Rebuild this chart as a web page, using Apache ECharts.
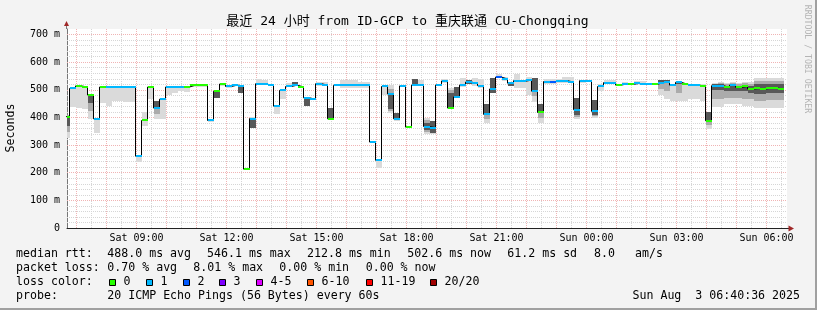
<!DOCTYPE html>
<html><head><meta charset="utf-8">
<script src="https://cdn.jsdelivr.net/npm/echarts@6/dist/echarts.min.js"></script>
<style>html,body{margin:0;padding:0;background:#f3f3f3}#c{width:817px;height:310px}</style>
</head><body><div id="c"></div>
<script>
// ---- data (minutes since Sat 00:00; 12-minute samples) ----
const titleText = '最近 24 小时 from ID-GCP to 重庆联通 CU-Chongqing';
const xLabelValues = [540, 720, 900, 1080, 1260, 1440, 1620, 1800];
const xLabelTexts = ['Sat 09:00', 'Sat 12:00', 'Sat 15:00', 'Sat 18:00', 'Sat 21:00', 'Sun 00:00', 'Sun 03:00', 'Sun 06:00'];
const yLabelValues = [0, 100, 200, 300, 400, 500, 600, 700];
const yLabelTexts = ['0', '100 m', '200 m', '300 m', '400 m', '500 m', '600 m', '700 m'];

const median = [403,505,514,510,481,395,510,510,510,510,
510,510,260,389,510,434,466,510,510,510,
510,517,517,517,389,495,521,512,517,514,
213,396,522,520,516,441,498,512,517,510,
471,466,522,517,395,516,516,516,516,516,
516,311,245,512,485,395,514,365,517,517,
367,363,517,532,434,474,517,528,523,515,
411,503,546,539,524,533,531,535,495,418,
530,530,533,533,528,428,533,532,422,512,
526,526,517,522,520,523,520,520,520,526,
527,517,527,520,517,517,512,388,515,515,
509,517,509,512,503,505,503,506,506,503];
const lossIdx = [0,1,0,0,0,1,0,1,1,1,
1,1,1,0,0,1,1,1,1,1,
0,0,0,0,1,0,0,1,1,1,
0,1,1,1,1,1,1,1,1,0,
1,1,1,1,0,1,1,1,1,1,
1,1,1,1,1,1,1,0,1,1,
1,1,1,1,0,1,1,1,1,1,
1,1,2,1,1,1,1,1,1,0,
1,2,1,1,1,1,1,1,1,1,
1,1,0,1,0,1,1,1,0,1,
1,1,1,0,1,1,0,0,1,1,
0,1,0,0,0,0,0,0,0,0];
const smokeLo = [326,437,435,432,393,345,454,441,460,460,
456,456,237,368,465,393,393,480,490,495,
491,510,510,510,385,469,515,508,512,488,
210,363,520,518,512,413,468,510,515,null,
441,464,515,515,395,512,505,505,505,505,
505,309,218,483,417,387,512,363,517,515,
341,341,515,525,435,474,510,520,512,506,
381,489,541,532,512,505,505,480,457,381,
520,520,525,525,525,395,525,527,398,497,
520,520,515,520,null,520,518,null,null,481,
466,459,459,459,465,465,459,357,437,437,
447,447,447,440,440,435,435,435,435,435];
const smokeHi = [410,505,514,510,482,396,510,510,510,510,
510,510,260,418,510,460,466,514,512,512,
514,520,520,520,392,500,525,515,522,516,
215,400,540,535,520,442,500,526,528,null,
472,468,527,528,435,522,535,535,535,530,
528,313,246,514,519,417,516,367,538,535,
399,388,520,540,507,510,544,534,541,538,
450,544,556,548,530,557,535,545,541,450,
540,540,540,545,545,471,537,535,462,520,
537,537,519,530,null,532,532,null,null,535,
536,522,530,522,520,520,522,421,525,528,
526,528,526,530,530,541,541,541,541,541];
const coreLo = [369,null,null,null,453,null,null,null,null,null,
null,null,null,null,null,435,null,null,null,null,
null,null,null,null,null,469,null,null,null,488,
null,363,null,null,null,null,null,null,517,null,
441,null,null,null,395,null,null,null,null,null,
null,null,null,null,430,395,null,null,517,null,
355,345,null,null,435,474,null,520,null,null,
411,489,null,null,512,null,null,null,495,418,
null,null,null,null,null,410,null,null,410,null,
null,null,null,null,null,null,null,null,null,522,
524,null,520,null,null,null,null,388,500,500,
495,495,495,495,490,485,485,488,488,488];
const coreHi = [405,null,null,null,481,null,null,null,null,null,
null,null,null,null,null,459,null,null,null,null,
null,null,null,null,null,495,null,null,null,514,
null,396,null,null,null,null,null,null,528,null,
471,null,null,null,435,null,null,null,null,null,
null,null,null,null,485,417,null,null,538,null,
380,388,null,null,490,510,null,534,null,null,
450,544,null,null,530,null,null,null,541,450,
null,null,null,null,null,471,null,null,462,null,
null,null,null,null,null,null,null,null,null,535,
536,null,530,null,null,null,null,421,520,520,
515,522,515,518,515,520,520,522,522,520];

const lossColors = ['#26ff00','#00b8ff','#0059ff','#7e00ff','#dd00ff','#ff5500','#ff0000','#a00000'];
const lossLabels = ['0','1','2','3','4-5','6-10','11-19','20/20'];
const rttStats = ['488.0 ms avg','546.1 ms max','212.8 ms min','502.6 ms now','61.2 ms sd','8.0','am/s'];
const lossStats = ['0.70 % avg','8.01 % max','0.00 % min','0.00 % now'];
const probeText = '20 ICMP Echo Pings (56 Bytes) every 60s';
const dateText = 'Sun Aug  3 06:40:36 2025';

const X_MIN = 401, X_MAX = 1841, STEP = 12, FIRST = 394;
const starts = median.map((_, k) => FIRST + STEP * k);

// ---- chart ----
const FONT = '"DejaVu Sans Mono", monospace';
const chart = echarts.init(document.getElementById('c'), null, {renderer: 'canvas'});

const MAJOR = '#f0b4b4', MINOR = '#d6d6d6';
const gridLines = [];
for (let t = 420; t < X_MAX; t += 60) gridLines.push({xAxis: t, lineStyle: {color: MAJOR, type: [1, 1], width: 1}});
for (let t = 450; t < X_MAX; t += 60) gridLines.push({xAxis: t, lineStyle: {color: MINOR, type: [1, 1], width: 1}});
for (let v = 20; v <= 700; v += 20) {
  gridLines.push({yAxis: v, lineStyle: {color: v % 100 === 0 ? MAJOR : MINOR, type: [1, 1], width: 1}});
}

const stepLine = starts.map((t, k) => [t, median[k]]);
stepLine.push([starts[starts.length - 1] + STEP, median[median.length - 1]]);

function bandRect(api, s, e, lo, hi, color) {
  const p0 = api.coord([s, hi]), p1 = api.coord([e, lo]);
  const x0 = Math.round(p0[0]), x1 = Math.round(p1[0]);
  const y0 = Math.round(p0[1]), y1 = Math.round(p1[1]);
  return {type: 'rect', shape: {x: x0, y: y0, width: x1 - x0, height: Math.max(1, y1 - y0)}, style: {fill: color}};
}

chart.setOption({
  animation: false,
  backgroundColor: '#f3f3f3',
  grid: {left: 67, top: 29, right: 30, bottom: 82, show: true, backgroundColor: '#ffffff', borderWidth: 0},
  xAxis: {
    type: 'value', min: X_MIN, max: X_MAX,
    axisLine: {show: true, onZero: false, lineStyle: {color: '#222', width: 1}},
    axisTick: {show: false},
    splitLine: {show: false},
    axisLabel: {
      customValues: xLabelValues, margin: 5,
      formatter: v => xLabelTexts[xLabelValues.indexOf(v)] || '',
      fontFamily: FONT, fontSize: 10, color: '#000'
    }
  },
  yAxis: {
    type: 'value', min: 0, max: 720,
    axisLine: {show: true, lineStyle: {color: '#777', width: 1}},
    axisTick: {show: false},
    splitLine: {show: false},
    axisLabel: {
      customValues: yLabelValues, margin: 7,
      formatter: v => yLabelTexts[yLabelValues.indexOf(v)] || '',
      fontFamily: FONT, fontSize: 10, color: '#000'
    }
  },
  series: [
    {
      type: 'line', data: [], silent: true,
      markLine: {silent: true, symbol: ['none', 'none'], label: {show: false}, z: 1, animation: false, data: gridLines}
    },
    {
      type: 'custom', z: 2, silent: true, clip: true,
      data: starts.map((t, k) => [t, median[k]]),
      encode: {x: 0, y: 1},
      renderItem: (params, api) => {
        const k = params.dataIndex;
        const s = Math.max(starts[k], X_MIN), e = Math.min(starts[k] + STEP, X_MAX);
        const children = [];
        if (smokeLo[k] != null) {
          children.push(bandRect(api, s, e, smokeLo[k], smokeHi[k], '#dadada'));
          if (coreLo[k] != null) {
            const mLo = (smokeLo[k] + coreLo[k]) / 2, mHi = (smokeHi[k] + coreHi[k]) / 2;
            children.push(bandRect(api, s, e, mLo, mHi, '#ababab'));
            children.push(bandRect(api, s, e, coreLo[k], coreHi[k], '#585858'));
          }
        }
        return {type: 'group', children};
      }
    },
    {
      type: 'line', z: 3, step: 'end', data: stepLine, showSymbol: false, silent: true,
      lineStyle: {color: '#000', width: 1}
    },
    {
      type: 'custom', z: 4, silent: true, clip: true,
      data: starts.map((t, k) => [t, median[k]]),
      encode: {x: 0, y: 1},
      renderItem: (params, api) => {
        const k = params.dataIndex;
        const s = Math.max(starts[k], X_MIN), e = Math.min(starts[k] + STEP, X_MAX);
        const p0 = api.coord([s, median[k]]), p1 = api.coord([e, median[k]]);
        const x0 = Math.round(p0[0]), x1 = Math.round(p1[0]);
        const y = Math.round(p0[1]);
        return {type: 'rect', shape: {x: x0, y: y - 1, width: x1 - x0, height: 2}, style: {fill: lossColors[lossIdx[k]]}};
      }
    }
  ]
});

// ---- decorations & legend text ----
const pEnd = chart.convertToPixel({gridIndex: 0}, [X_MAX, 0]);
const pTop = chart.convertToPixel({gridIndex: 0}, [X_MIN, 720]);
const g = [];
function txt(x, y, text, opts) {
  g.push(Object.assign({type: 'text', x, y, silent: true,
    style: Object.assign({text, fill: '#000', fontFamily: FONT, fontSize: 11.6, verticalAlign: 'middle', align: 'left'}, opts || {})}));
}
// frame
g.push({type: 'rect', shape: {x: 0, y: 308, width: 817, height: 2}, style: {fill: '#a0a0a0'}, silent: true});
g.push({type: 'rect', shape: {x: 815, y: 0, width: 2, height: 310}, style: {fill: '#a0a0a0'}, silent: true});
// axis extensions + arrows
g.push({type: 'line', shape: {x1: pEnd[0], y1: pEnd[1] + 0.5, x2: pEnd[0] + 2, y2: pEnd[1] + 0.5}, style: {stroke: '#222'}, silent: true});
g.push({type: 'polygon', shape: {points: [[pEnd[0] + 1.5, pEnd[1] - 2.5], [pEnd[0] + 7, pEnd[1] + 0.5], [pEnd[0] + 1.5, pEnd[1] + 3.5]]}, style: {fill: '#a02828'}, silent: true});
g.push({type: 'line', shape: {x1: pTop[0] - 0.5, y1: pTop[1], x2: pTop[0] - 0.5, y2: pTop[1] - 3}, style: {stroke: '#777'}, silent: true});
g.push({type: 'polygon', shape: {points: [[pTop[0] - 3, pTop[1] - 3], [pTop[0] - 0.5, pTop[1] - 8], [pTop[0] + 2, pTop[1] - 3]]}, style: {fill: '#a02828'}, silent: true});
// title, y name, watermark
txt(407.5, 21.5, titleText, {align: 'center', fontSize: 13, fontFamily: '"DejaVu Sans Mono", "Noto Sans CJK SC", monospace'});
g.push({type: 'text', x: 10.5, y: 128, rotation: Math.PI / 2, silent: true,
  style: {text: 'Seconds', fill: '#000', fontFamily: FONT, fontSize: 11.6, align: 'center', verticalAlign: 'middle'}});
g.push({type: 'text', x: 807.5, y: 59, rotation: -Math.PI / 2, silent: true,
  style: {text: 'RRDTOOL / TOBI OETIKER', fill: '#b4b4b4', fontFamily: FONT, fontSize: 8.2, align: 'center', verticalAlign: 'middle'}});
// rows
const rttX = [107.3, 207, 307, 407.3, 507.3, 594, 635];
txt(16, 254.3, 'median rtt:');
rttStats.forEach((s, i) => txt(rttX[i], 254.3, s));
const lossX = [107.3, 193.3, 279.3, 365.7];
txt(16, 268.3, 'packet loss:');
lossStats.forEach((s, i) => txt(lossX[i], 268.3, s));
txt(16, 282.3, 'loss color:');
const swX = [108.5, 145.5, 182.5, 219.3, 256, 307, 365.7, 430.3];
lossLabels.forEach((l, i) => {
  g.push({type: 'rect', shape: {x: Math.round(swX[i]) + 0.5, y: 279.5, width: 6, height: 6}, style: {fill: lossColors[i], stroke: '#000', lineWidth: 1}, silent: true});
  txt(Math.round(swX[i]) + 14.5, 282.3, l);
});
txt(16, 296, 'probe:');
txt(107.3, 296, probeText);
txt(800, 296, dateText, {align: 'right'});

chart.setOption({graphic: {elements: g}});
</script>
</body></html>
